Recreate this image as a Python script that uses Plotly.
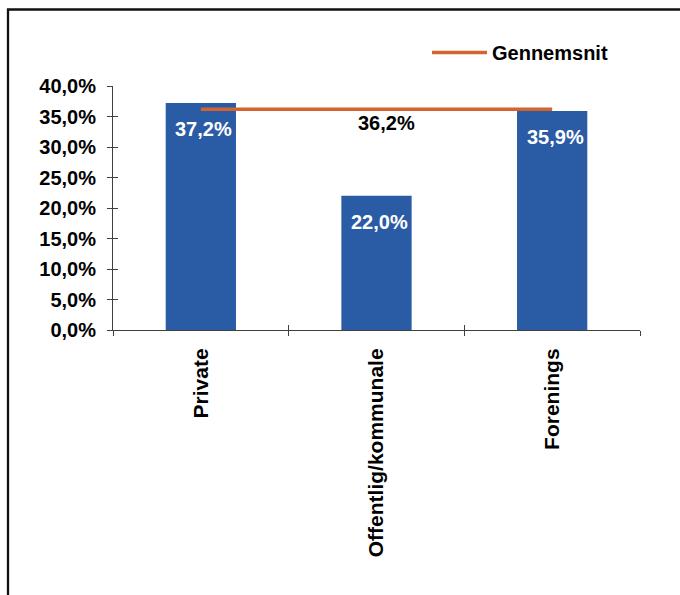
import plotly.graph_objects as go

categories = ["Private", "Offentlig/kommunale", "Forenings"]
values = [0.372, 0.220, 0.359]
average = 0.362
avg_name = "Gennemsnit"
y_ticks = [0, 0.05, 0.10, 0.15, 0.20, 0.25, 0.30, 0.35, 0.40]

W, H = 680, 595
L, R, T, B = 113, 40, 86, 265
pw, ph = W - L - R, H - T - B

def px_x(p):
    return (p - L) / pw

def px_y(p):
    return (H - B - p) / ph

BAR = "#2A5BA5"
AVG = "#D2652F"
FONT = dict(family="Liberation Sans, Arial, sans-serif", color="black", weight="bold")

fig = go.Figure()
fig.add_trace(go.Bar(x=categories, y=values, marker=dict(color=BAR, line=dict(width=0)),
                     showlegend=False, hoverinfo="skip"))
fig.add_trace(go.Scatter(x=categories, y=[average] * len(categories), mode="lines",
                         line=dict(color=AVG, width=3.5), name=avg_name, showlegend=True))
# invisible trace to activate overlay axes (crossing ticks)
fig.add_trace(go.Scatter(x=[-0.5], y=[0], xaxis="x2", yaxis="y2", mode="markers",
                         marker=dict(opacity=0), showlegend=False, hoverinfo="skip"))

for c, v in zip(categories, values):
    fig.add_annotation(x=c, y=v, text=f"{v*100:.1f}%".replace(".", ","), showarrow=False,
                       yshift=-26, xshift=3, font=dict(size=20, color="white",
                       family=FONT["family"], weight="bold"))
fig.add_annotation(x=categories[1], y=average, text=f"{average*100:.1f}%".replace(".", ","),
                   showarrow=False, yshift=-14, xshift=10,
                   font=dict(size=20, color="black", family=FONT["family"], weight="bold"))

# frame
fig.add_shape(type="rect", xref="paper", yref="paper",
              x0=px_x(8), x1=px_x(W + 20), y0=px_y(H + 20), y1=px_y(9.5),
              line=dict(color="#111111", width=2.3), fillcolor="rgba(0,0,0,0)")

axis_col = "#404040"
fig.update_layout(
    width=W, height=H,
    margin=dict(l=L, r=R, t=T, b=B, pad=0),
    paper_bgcolor="white", plot_bgcolor="white",
    separators=",.",
    bargap=0.6,
    font=dict(size=20, **FONT),
    xaxis=dict(type="category", tickson="boundaries", ticks="outside", ticklen=5,
               tickcolor=axis_col, showline=True, linecolor=axis_col, linewidth=1,
               tickangle=-90, tickfont=dict(size=21, **FONT), ticklabelstandoff=9,
               showgrid=False, range=[-0.5, 2.5], fixedrange=True),
    yaxis=dict(range=[0, 0.4], tickvals=y_ticks, tickformat=".1%", ticks="outside",
               ticklen=5, tickcolor=axis_col, showline=True, linecolor=axis_col,
               linewidth=1, showgrid=False, zeroline=False,
               tickfont=dict(size=20, **FONT), ticklabelstandoff=7),
    xaxis2=dict(overlaying="x", range=[-0.5, 2.5], tickvals=[-0.5, 0.5, 1.5, 2.5],
                ticks="inside", ticklen=5, tickcolor=axis_col, showticklabels=False,
                showgrid=False, zeroline=False, showline=False),
    yaxis2=dict(overlaying="y", range=[0, 0.4], tickvals=y_ticks, ticks="inside",
                ticklen=5, tickcolor=axis_col, showticklabels=False, showgrid=False,
                zeroline=False, showline=False),
    legend=dict(x=px_x(427), y=px_y(33), xanchor="left", yanchor="top",
                bgcolor="rgba(0,0,0,0)", itemwidth=55,
                font=dict(size=20, **FONT)),
)

fig.write_html("out.html", config={"displayModeBar": False},
               post_script="document.body.style.margin='0';")
